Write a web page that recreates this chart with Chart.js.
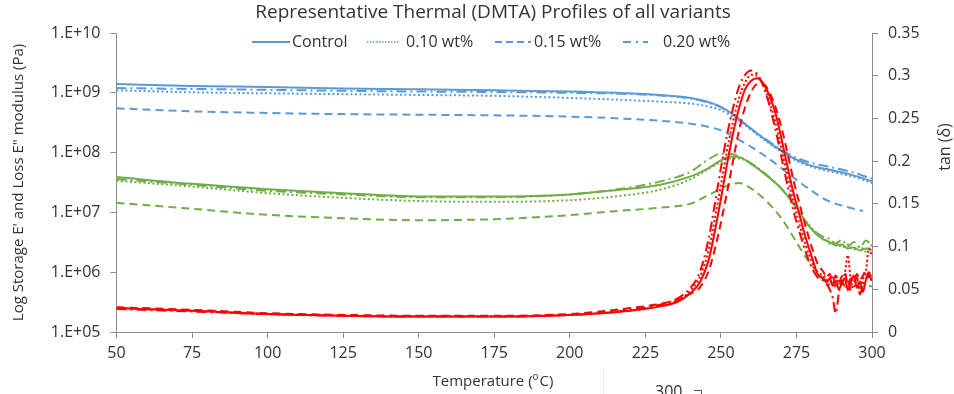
<!DOCTYPE html>
<html>
<head>
<meta charset="utf-8">
<title>DMTA profiles</title>
<script src="https://cdn.jsdelivr.net/npm/chart.js@4/dist/chart.umd.min.js"></script>
<style>
    html, body { margin: 0; padding: 0; background: #fff; }
    #wrap { width: 954px; height: 394px; }
</style>
</head>
<body>
<div id="wrap"><canvas id="chart" width="954" height="394"></canvas></div>
<script>
// ---- data ----
const seriesNames = ['Control', '0.10 wt%', '0.15 wt%', '0.20 wt%'];

// storage modulus E' (Pa), blue
const tempE = [50, 75, 100, 125, 150, 175, 200, 215, 230, 240, 245, 250, 255, 260, 265, 270, 275, 280, 285, 290, 295, 297, 300];
const storControl = [1.4e9, 1.3e9, 1.25e9, 1.18e9, 1.15e9, 1.1e9, 1.05e9, 1.0e9, 9.2e8, 8.2e8, 7.2e8, 5.8e8, 4.0e8, 2.5e8, 1.6e8, 1.07e8, 7.6e7, 6.0e7, 5.3e7, 4.7e7, 4.0e7, 3.7e7, 3.3e7];
const stor010 = [1.1e9, 1.02e9, 9.8e8, 9.5e8, 9.2e8, 8.9e8, 8.2e8, 7.7e8, 7.1e8, 6.6e8, 6.0e8, 5.1e8, 3.7e8, 2.4e8, 1.55e8, 1.04e8, 7.3e7, 5.8e7, 5.0e7, 4.4e7, 3.8e7, 3.5e7, 3.1e7];
const stor015 = [5.5e8, 4.9e8, 4.6e8, 4.4e8, 4.3e8, 4.2e8, 4.0e8, 3.75e8, 3.4e8, 3.05e8, 2.75e8, 2.35e8, 1.75e8, 1.25e8, 8.5e7, 5.5e7, 3.5e7, 2.3e7, 1.6e7, 1.3e7, 1.12e7, 1.05e7, null];
const stor020 = [1.2e9, 1.16e9, 1.12e9, 1.08e9, 1.05e9, 1.03e9, 1.0e9, 9.7e8, 9.0e8, 8.0e8, 7.0e8, 5.7e8, 3.9e8, 2.5e8, 1.65e8, 1.12e8, 8.2e7, 6.7e7, 5.9e7, 5.2e7, 4.5e7, 4.1e7, 3.7e7];

// loss modulus E'' (Pa), green
const tempL = [50, 75, 100, 125, 150, 175, 200, 215, 230, 240, 245, 250, 253, 256, 260, 265, 270, 275, 278, 281, 284, 286, 288, 290, 292, 294, 296, 298, 300];
const lossControl = [3.9e7, 3.0e7, 2.45e7, 2.1e7, 1.85e7, 1.85e7, 2.0e7, 2.35e7, 2.9e7, 4.0e7, 5.2e7, 7.4e7, 8.6e7, 8.4e7, 6.5e7, 4.2e7, 2.5e7, 1.2e7, 7.0e6, 4.6e6, 3.5e6, 3.2e6, 2.8e6, 2.9e6, 2.5e6, 2.6e6, 2.3e6, 2.5e6, 2.3e6];
const loss010 = [3.4e7, 2.7e7, 2.1e7, 1.75e7, 1.55e7, 1.5e7, 1.6e7, 1.85e7, 2.4e7, 3.6e7, 5.0e7, 7.0e7, 8.0e7, 8.0e7, 6.5e7, 4.2e7, 2.5e7, 1.2e7, 7.3e6, 4.9e6, 3.8e6, 3.0e6, 3.3e6, 2.6e6, 2.9e6, 2.4e6, 2.7e6, 2.2e6, 2.9e6];
const loss015 = [1.45e7, 1.15e7, 9.1e6, 8.0e6, 7.4e6, 7.7e6, 9.0e6, 1.05e7, 1.2e7, 1.4e7, 1.85e7, 2.5e7, 2.9e7, 3.1e7, 2.5e7, 1.55e7, 8.0e6, 3.2e6, 1.8e6, 1.15e6, 8.0e5, 7.0e5, 6.5e5, 6.2e5, 5.6e5, 5.8e5, 5.4e5, 6.0e5, 5.8e5];
const loss020 = [3.6e7, 2.9e7, 2.3e7, 2.0e7, 1.8e7, 1.8e7, 2.0e7, 2.4e7, 3.3e7, 4.8e7, 7.2e7, 9.6e7, 9.6e7, 8.6e7, 6.6e7, 4.3e7, 2.5e7, 1.2e7, 7.0e6, 4.8e6, 3.9e6, 3.6e6, 3.0e6, 3.5e6, 2.7e6, 3.2e6, 2.6e6, 3.4e6, 2.8e6];

// tan(delta), red, right axis
const tempT = [50, 75, 100, 125, 150, 175, 200, 210, 220, 230, 236, 240, 243, 246, 248, 250, 252, 254, 256, 258, 260, 262, 264, 266, 268, 270, 272, 274, 276, 278, 280, 282, 284, 285, 286, 287, 288, 289, 290, 291, 292, 293, 294, 295, 296, 297, 298, 299, 300];
const tanControl = [0.028, 0.025, 0.021, 0.019, 0.018, 0.018, 0.020, 0.022, 0.025, 0.030, 0.036, 0.046, 0.058, 0.085, 0.118, 0.156, 0.196, 0.232, 0.262, 0.284, 0.294, 0.297, 0.291, 0.277, 0.257, 0.227, 0.194, 0.163, 0.137, 0.111, 0.089, 0.068, 0.062,
    0.058, 0.063, 0.054, 0.060, 0.050, 0.057, 0.063, 0.049, 0.058, 0.066, 0.052, 0.059, 0.047, 0.061, 0.067, 0.060];
const tan010 = [0.028, 0.025, 0.021, 0.019, 0.018, 0.018, 0.020, 0.022, 0.025, 0.031, 0.037, 0.049, 0.064, 0.097, 0.133, 0.172, 0.212, 0.246, 0.274, 0.292, 0.301, 0.300, 0.289, 0.270, 0.246, 0.215, 0.183, 0.152, 0.126, 0.102, 0.083, 0.070, 0.066,
    0.061, 0.055, 0.064, 0.052, 0.061, 0.055, 0.068, 0.090, 0.060, 0.053, 0.063, 0.050, 0.062, 0.072, 0.098, 0.088];
const tan015 = [0.029, 0.026, 0.022, 0.020, 0.019, 0.019, 0.021, 0.024, 0.028, 0.033, 0.038, 0.045, 0.052, 0.072, 0.097, 0.128, 0.163, 0.200, 0.236, 0.263, 0.281, 0.290, 0.290, 0.281, 0.264, 0.240, 0.210, 0.178, 0.150, 0.124, 0.100, 0.080, 0.070,
    0.064, 0.068, 0.059, 0.066, 0.058, 0.065, 0.070, 0.056, 0.063, 0.059, 0.068, 0.061, 0.066, 0.072, 0.064, 0.068];
const tan020 = [0.027, 0.024, 0.021, 0.019, 0.018, 0.018, 0.020, 0.022, 0.026, 0.032, 0.040, 0.052, 0.070, 0.110, 0.150, 0.192, 0.230, 0.262, 0.287, 0.301, 0.306, 0.302, 0.288, 0.266, 0.238, 0.205, 0.172, 0.142, 0.117, 0.094, 0.076, 0.064, 0.060,
    0.056, 0.050, 0.040, 0.022, 0.045, 0.060, 0.054, 0.062, 0.048, 0.058, 0.064, 0.044, 0.056, 0.062, 0.070, 0.058];

// axis ticks
const xTicks = [50, 75, 100, 125, 150, 175, 200, 225, 250, 275, 300];
const leftTicks = [1e5, 1e6, 1e7, 1e8, 1e9, 1e10];
const leftTickLabels = ['1.E+05', '1.E+06', '1.E+07', '1.E+08', '1.E+09', '1.E+10'];
const rightTicks = [0, 0.05, 0.1, 0.15, 0.2, 0.25, 0.3, 0.35];
const rightTickLabels = ['0', '0.05', '0.1', '0.15', '0.2', '0.25', '0.3', '0.35'];

// ---- styling ----
const BLUE = '#5B9BD5';
const GREEN = '#70AD47';
const RED = '#FF0000';
const AXIS = '#8C8C8C';
const TEXT = '#333333';
const FONT = "'Open Sans', sans-serif";
const dashes = [[], [2, 2.5], [8, 5], [10, 4, 2, 4]];

function toPoints(xs, ys) {
    const pts = [];
    xs.forEach((x, i) => {
        if (ys[i] !== null && ys[i] !== undefined) pts.push({ x: x, y: ys[i] });
    });
    return pts;
}

function makeSet(label, xs, ys, color, dashIdx, axis) {
    return {
        label: label,
        data: toPoints(xs, ys),
        borderColor: color,
        backgroundColor: color,
        borderWidth: 2,
        borderDash: dashes[dashIdx],
        pointRadius: 0,
        fill: false,
        cubicInterpolationMode: 'monotone',
        yAxisID: axis
    };
}

const tanSets = [tanControl, tan010, tan015, tan020];
const lossSets = [lossControl, loss010, loss015, loss020];
const storSets = [storControl, stor010, stor015, stor020];

const datasets = [];
// first datasets are drawn on top
tanSets.forEach((s, i) => datasets.push(makeSet(seriesNames[i] + ' tan', tempT, s, RED, i, 'yR')));
storSets.forEach((s, i) => datasets.push(makeSet(seriesNames[i] + ' E\'', tempE, s, BLUE, i, 'yL')));
lossSets.forEach((s, i) => datasets.push(makeSet(seriesNames[i] + ' E"', tempL, s, GREEN, i, 'yL')));

// title, legend, axis titles drawn by hand so they sit where the original has them
const decorPlugin = {
    id: 'decor',
    afterDraw(chart) {
        const ctx = chart.ctx;
        const area = chart.chartArea;
        ctx.save();
        ctx.fillStyle = TEXT;

        // title
        ctx.font = '19px ' + FONT;
        ctx.textAlign = 'center';
        ctx.textBaseline = 'middle';
        ctx.fillText('Representative Thermal (DMTA) Profiles of all variants', 493, 13);

        // legend
        const legendItems = [
            { x0: 252, x1: 290, tx: 292 },
            { x0: 367, x1: 400, tx: 406 },
            { x0: 495, x1: 531, tx: 534 },
            { x0: 623, x1: 648, tx: 663 }
        ];
        const legendDash = [[], [1.5, 1.5], [7, 4], [8, 5, 2, 5]];
        ctx.font = '16px ' + FONT;
        ctx.textAlign = 'left';
        legendItems.forEach((it, i) => {
            ctx.save();
            ctx.strokeStyle = BLUE;
            ctx.lineWidth = i === 1 ? 1.5 : 2;
            ctx.setLineDash(legendDash[i]);
            ctx.beginPath();
            ctx.moveTo(it.x0, 42);
            ctx.lineTo(it.x1, 42);
            ctx.stroke();
            ctx.restore();
            ctx.fillText(seriesNames[i], it.tx, 42);
        });

        // left axis title
        ctx.save();
        ctx.font = '15px ' + FONT;
        ctx.textAlign = 'center';
        ctx.translate(19, (area.top + area.bottom) / 2);
        ctx.rotate(-Math.PI / 2);
        ctx.fillText('Log Storage E\' and Loss E" modulus (Pa)', 0, 0);
        ctx.restore();

        // right axis title
        ctx.save();
        ctx.font = '16px ' + FONT;
        ctx.textAlign = 'center';
        ctx.translate(945, 147);
        ctx.rotate(-Math.PI / 2);
        ctx.fillText('tan (\u03B4)', 0, 0);
        ctx.restore();

        // x axis title with superscript o
        ctx.font = '15px ' + FONT;
        ctx.textAlign = 'left';
        const p1 = 'Temperature (';
        const p3 = 'C)';
        const w1 = ctx.measureText(p1).width;
        ctx.font = '10px ' + FONT;
        const w2 = ctx.measureText('o').width;
        ctx.font = '15px ' + FONT;
        const w3 = ctx.measureText(p3).width;
        let tx = 493 - (w1 + w2 + w3 + 1) / 2;
        ctx.fillText(p1, tx, 382);
        ctx.font = '10px ' + FONT;
        ctx.fillText('o', tx + w1, 377);
        ctx.font = '15px ' + FONT;
        ctx.fillText(p3, tx + w1 + w2 + 1, 382);

        // stray bits of a neighbouring chart at the bottom edge
        ctx.textBaseline = 'alphabetic';
        ctx.font = '16px ' + FONT;
        ctx.fillText('300', 655, 397);
        ctx.strokeStyle = '#555';
        ctx.lineWidth = 1;
        ctx.beginPath();
        ctx.moveTo(694, 390.5);
        ctx.lineTo(701.5, 390.5);
        ctx.lineTo(701.5, 394);
        ctx.stroke();
        ctx.strokeStyle = '#eeeeee';
        ctx.beginPath();
        ctx.moveTo(603.5, 368);
        ctx.lineTo(603.5, 394);
        ctx.stroke();

        ctx.restore();
    }
};

const tickFont = { family: FONT, size: 16 };

const chart = new Chart(document.getElementById('chart').getContext('2d'), {
    type: 'line',
    data: { datasets: datasets },
    options: {
        responsive: false,
        devicePixelRatio: 1,
        animation: false,
        layout: { padding: { top: 33, left: 0, right: 0, bottom: 0 } },
        plugins: {
            legend: { display: false },
            title: { display: false },
            tooltip: { enabled: false }
        },
        scales: {
            x: {
                type: 'linear',
                min: 50,
                max: 300,
                afterBuildTicks: (axis) => { axis.ticks = xTicks.map(v => ({ value: v })); },
                afterFit: (scale) => { scale.height = 62; },
                border: { display: true, color: AXIS, width: 1 },
                grid: { drawOnChartArea: false, drawTicks: true, tickLength: 6, color: AXIS },
                ticks: { font: tickFont, color: TEXT, padding: 6, maxRotation: 0, autoSkip: false }
            },
            yL: {
                type: 'logarithmic',
                position: 'left',
                min: 1e5,
                max: 1e10,
                afterBuildTicks: (axis) => { axis.ticks = leftTicks.map(v => ({ value: v })); },
                afterFit: (scale) => { scale.width = 116.5; },
                border: { display: true, color: AXIS, width: 1 },
                grid: { drawOnChartArea: false, drawTicks: true, tickLength: 6, color: AXIS },
                ticks: {
                    font: tickFont,
                    color: TEXT,
                    padding: 10,
                    autoSkip: false,
                    callback: (v, i) => leftTickLabels[i]
                }
            },
            yR: {
                type: 'linear',
                position: 'right',
                min: 0,
                max: 0.35,
                afterBuildTicks: (axis) => { axis.ticks = rightTicks.map(v => ({ value: v })); },
                afterFit: (scale) => { scale.width = 82; },
                border: { display: true, color: AXIS, width: 1 },
                grid: { drawOnChartArea: false, drawTicks: true, tickLength: 6, color: AXIS },
                ticks: {
                    font: tickFont,
                    color: TEXT,
                    padding: 10,
                    autoSkip: false,
                    callback: (v, i) => rightTickLabels[i]
                }
            }
        }
    },
    plugins: [decorPlugin]
});
</script>
</body>
</html>
